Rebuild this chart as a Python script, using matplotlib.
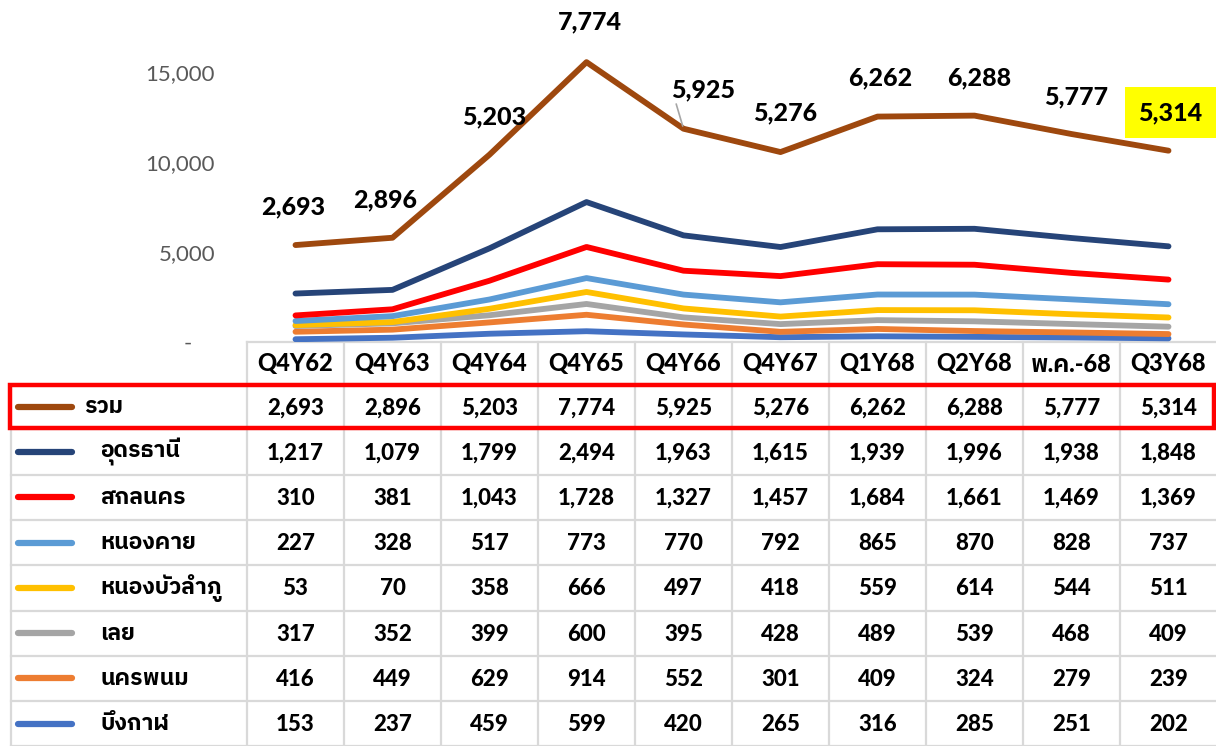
import matplotlib
matplotlib.use("Agg")
import matplotlib.pyplot as plt
from matplotlib import font_manager
from matplotlib.ft2font import FT2Font
import numpy as np

# ---- data ----
periods = ["Q4Y62", "Q4Y63", "Q4Y64", "Q4Y65", "Q4Y66", "Q4Y67",
           "Q1Y68", "Q2Y68", "พ.ค.-68", "Q3Y68"]

names = ["รวม", "อุดรธานี", "สกลนคร", "หนองคาย", "หนองบัวลำภู", "เลย", "นครพนม", "บึงกาฬ"]

total = [2693, 2896, 5203, 7774, 5925, 5276, 6262, 6288, 5777, 5314]
udon = [1217, 1079, 1799, 2494, 1963, 1615, 1939, 1996, 1938, 1848]
sakon = [310, 381, 1043, 1728, 1327, 1457, 1684, 1661, 1469, 1369]
nongkhai = [227, 328, 517, 773, 770, 792, 865, 870, 828, 737]
nongbua = [53, 70, 358, 666, 497, 418, 559, 614, 544, 511]
loei = [317, 352, 399, 600, 395, 428, 489, 539, 468, 409]
nakhon = [416, 449, 629, 914, 552, 301, 409, 324, 279, 239]
bueng = [153, 237, 459, 599, 420, 265, 316, 285, 251, 202]

series = [total, udon, sakon, nongkhai, nongbua, loei, nakhon, bueng]
colors = ["#9E480E", "#264478", "#FF0000", "#5B9BD5", "#FFC000", "#A5A5A5", "#ED7D31", "#4472C4"]

# label offsets (pixels) for the total-line data labels
label_off = [(-2, 38), (-7, 38), (5, 38), (3, 40), (20, 39), (5, 39), (3, 39), (5, 38), (5, 37), (2, 38)]


def find_thai_font():
    found = []
    for f in font_manager.fontManager.ttflist:
        try:
            cmap = FT2Font(f.fname).get_charmap()
        except Exception:
            continue
        if 0x0E01 in cmap and 0x0E23 in cmap:
            found.append(f.name)
    for key in ("Sans Thai", "Thai", "Loma", "Garuda"):
        for n in found:
            if key in n:
                return n
    return found[0] if found else None


thai = find_thai_font()
fam = ["Lato"] + ([thai] if thai else []) + ["DejaVu Sans"]
plt.rcParams["font.family"] = fam

W, H = 1216, 746
fig = plt.figure(figsize=(W / 100, H / 100), dpi=100)

# ---- table (pixel coordinates) ----
tab = fig.add_axes([0, 0, 1, 1])
tab.set_xlim(0, W)
tab.set_ylim(H, 0)
tab.axis("off")

col0, colw = 247, 97
hdr_top, hdr_bot = 342, 384
rowh = 45.3
ncol = len(periods)
grid = "#D9D9D9"
fs = 16

for k in range(ncol):
    x = col0 + colw * k
    tab.plot([x, x], [hdr_top, H], color=grid, lw=1.6, zorder=1)
tab.plot([11, 11], [hdr_bot + rowh, H], color=grid, lw=1.6, zorder=1)
tab.plot([col0, W], [hdr_top, hdr_top], color=grid, lw=1.6, zorder=1)
tab.plot([col0, W], [hdr_bot, hdr_bot], color=grid, lw=1.6, zorder=1)
for r in range(1, len(series) + 1):
    y = hdr_bot + rowh * r
    tab.plot([11, W], [y, y], color=grid, lw=1.6, zorder=1)

for k, p in enumerate(periods):
    tab.text(col0 + colw * (k + 0.5), (hdr_top + hdr_bot) / 2 + 1, p,
             ha="center", va="center", fontsize=17, fontweight="black")

for r, (nm, vals, c) in enumerate(zip(names, series, colors)):
    yc = hdr_bot + rowh * (r + 0.5)
    tab.plot([18, 72], [yc, yc], color=c, lw=4.5, solid_capstyle="round", zorder=3)
    tab.text(84 if r == 0 else 100, yc, nm, ha="left", va="center",
             fontsize=16.5, fontweight="bold")
    for k, v in enumerate(vals):
        tab.text(col0 + colw * (k + 0.5), yc + 1, f"{v:,}", ha="center", va="center",
                 fontsize=fs, fontweight="black")

# red highlight around the total row
tab.add_patch(plt.Rectangle((10, hdr_bot + 1), W - 12, rowh - 2, fill=False,
                            edgecolor="#FF0000", lw=3.2, zorder=4))

# ---- stacked line chart ----
ax = fig.add_axes([col0 / W, (H - hdr_top) / H, colw * ncol / W, hdr_top / H])
ax.patch.set_alpha(0)
ymax = hdr_top / 90 * 5000
ax.set_xlim(-0.5, ncol - 0.5)
ax.set_ylim(0, ymax)

x = np.arange(ncol)
stack = np.cumsum(np.array(series[::-1]), axis=0)[::-1]
for vals, c in zip(stack[::-1], colors[::-1]):
    ax.plot(x, vals, color=c, lw=4.2, solid_capstyle="round", solid_joinstyle="round")

for s in ax.spines.values():
    s.set_visible(False)
ax.set_xticks([])
ax.set_yticks([0, 5000, 10000, 15000])
ax.set_yticklabels(["-    ", "5,000", "10,000", "15,000"])
ax.tick_params(axis="y", length=0, pad=23, labelsize=16, labelcolor="#595959")

top = stack[0]
for i, (v, (dx, dy)) in enumerate(zip(total, label_off)):
    kw = {}
    if i == ncol - 1:
        kw["bbox"] = dict(boxstyle="square,pad=0.55", fc="#FFFF00", ec="none")
    if i == 4:
        kw["arrowprops"] = dict(arrowstyle="-", color="#A6A6A6", lw=1.2,
                                shrinkA=0, shrinkB=2,
                                relpos=(0.05, 0.1))
    ax.annotate(f"{v:,}", xy=(i, top[i]), xytext=(dx, dy), textcoords="offset pixels",
                ha="center", va="center", fontsize=18, fontweight="black",
                annotation_clip=False, **kw)

fig.savefig("out.png", dpi=100)
